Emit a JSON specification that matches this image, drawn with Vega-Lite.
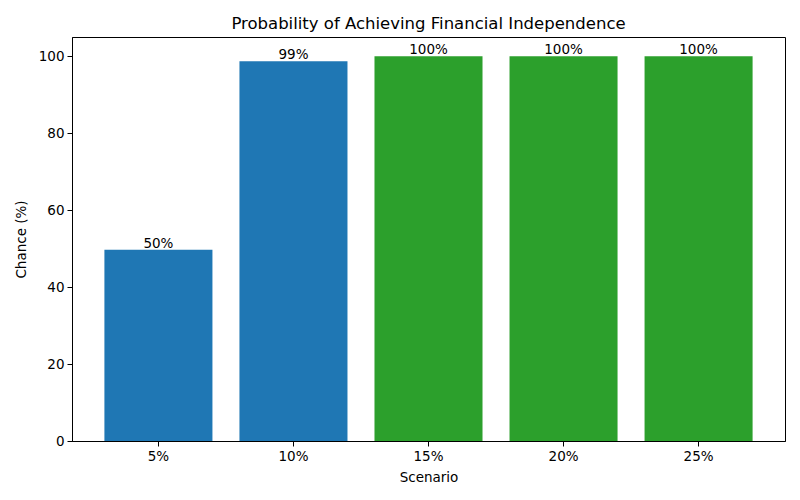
{
  "$schema": "https://vega.github.io/schema/vega-lite/v6.json",
  "width": 713,
  "height": 404,
  "autosize": {"type": "none"},
  "padding": {"left": 72, "top": 37, "right": 15, "bottom": 59},
  "background": "white",
  "title": {
    "text": "Probability of Achieving Financial Independence",
    "fontSize": 16.5,
    "fontWeight": "normal",
    "font": "DejaVu Sans",
    "color": "black",
    "offset": 5
  },
  "data": {
    "values": [
      {"scenario": "5%", "chance": 49.7, "label": "50%"},
      {"scenario": "10%", "chance": 98.7, "label": "99%"},
      {"scenario": "15%", "chance": 100, "label": "100%"},
      {"scenario": "20%", "chance": 100, "label": "100%"},
      {"scenario": "25%", "chance": 100, "label": "100%"}
    ]
  },
  "encoding": {
    "x": {
      "field": "scenario",
      "type": "nominal",
      "sort": null,
      "scale": {"paddingInner": 0.2, "paddingOuter": 0.24},
      "axis": {"title": "Scenario", "labelAngle": 0, "titlePadding": 8}
    },
    "y": {
      "field": "chance",
      "type": "quantitative",
      "scale": {"domain": [0, 105], "nice": false},
      "axis": {"title": "Chance (%)", "values": [0, 20, 40, 60, 80, 100], "grid": false, "titlePadding": 10}
    }
  },
  "layer": [
    {
      "mark": {"type": "bar"},
      "encoding": {
        "color": {
          "condition": {"test": "datum.chance >= 100", "value": "#2ca02c"},
          "value": "#1f77b4"
        }
      }
    },
    {
      "mark": {"type": "text", "baseline": "alphabetic", "dy": -2, "fontSize": 13.5, "font": "DejaVu Sans", "color": "black"},
      "encoding": {"text": {"field": "label"}}
    }
  ],
  "config": {
    "view": {"stroke": "black", "strokeWidth": 1},
    "axis": {
      "domainColor": "black",
      "tickColor": "black",
      "tickSize": 5,
      "labelFont": "DejaVu Sans",
      "labelFontSize": 13.5,
      "labelColor": "black",
      "labelPadding": 3,
      "titleFont": "DejaVu Sans",
      "titleFontSize": 13.5,
      "titleFontWeight": "normal",
      "titleColor": "black"
    }
  }
}
